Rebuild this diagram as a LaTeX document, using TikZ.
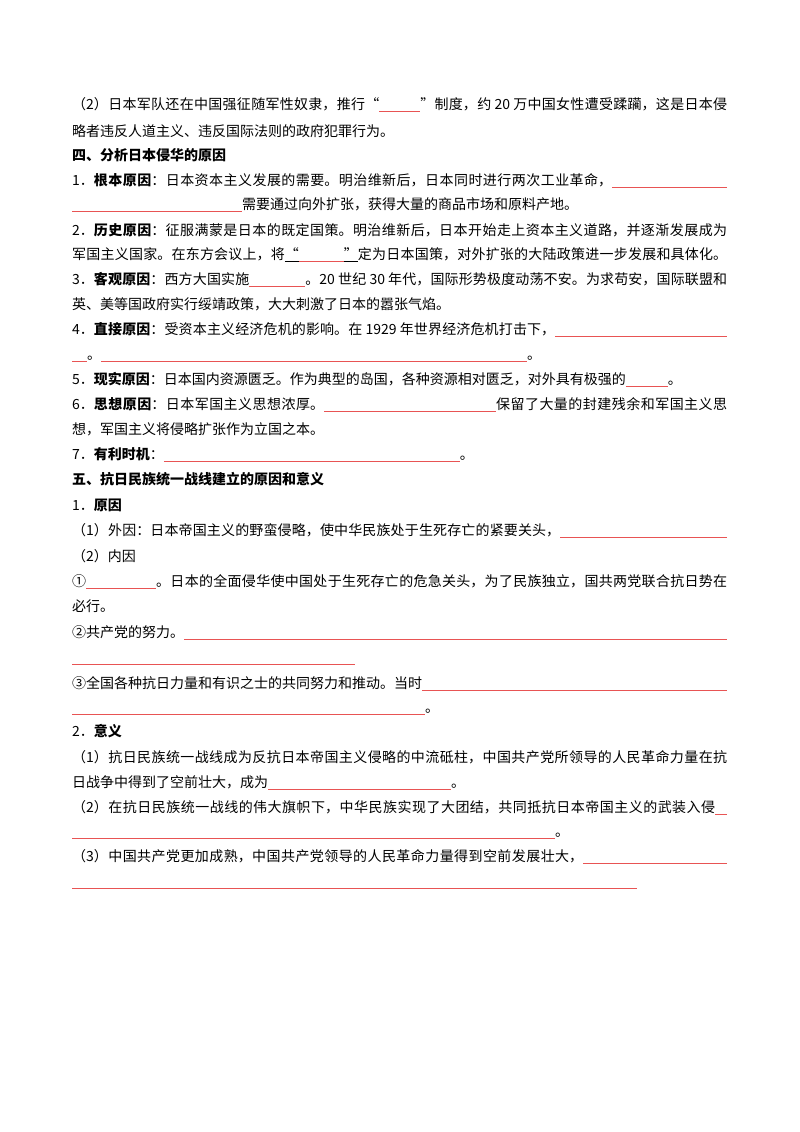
\documentclass[tikz,border=0pt]{standalone}
\usepackage{fontspec}
\setmainfont{Noto Sans CJK SC}
\XeTeXlinebreaklocale "zh"
\XeTeXlinebreakskip=0pt plus 4pt
\tolerance=10000
\setlength\parindent{0pt}
\definecolor{ulred}{RGB}{232,84,84}
\newcommand\blk[1]{{\color{ulred}\rule[-3pt]{#1pt}{0.9pt}}}
\newcommand\blkfill{{\color{ulred}\leaders\hrule height -2.1pt depth 3pt\hfill}}
\newcommand\kul[1]{\sbox0{#1}\rlap{\rule[-3pt]{\wd0}{0.9pt}}\usebox0}
\newcommand\jl[1]{\parbox[b]{655pt}{\noindent\parfillskip=0pt\relax #1}}
\tikzset{
  txt/.style={anchor=base west, inner sep=0pt, font=\fontsize{14}{18}\selectfont}
}
\begin{document}
\begin{tikzpicture}[x=1pt,y=-1pt]
\useasboundingbox[fill=white] (0,0) rectangle (800,1132);
\node[txt] (l1) at (72,109) {\jl{（2）日本军队还在中国强征随军性奴隶，推行“\blk{41}”制度，约 20 万中国女性遭受蹂躏，这是日本侵}};
\node[txt] (l2) at (72,136) {略者违反人道主义、违反国际法则的政府犯罪行为。};
\node[txt] (l3) at (72,160) {\bfseries 四、分析日本侵华的原因};
\node[txt] (l4) at (72,185) {\jl{1．\textbf{根本原因}：日本资本主义发展的需要。明治维新后，日本同时进行两次工业革命，\blk{115}}};
\node[txt] (l5) at (72,209) {\blk{170}需要通过向外扩张，获得大量的商品市场和原料产地。};
\node[txt] (l6) at (72,235) {\jl{2．\textbf{历史原因}：征服满蒙是日本的既定国策。明治维新后，日本开始走上资本主义道路，并逐渐发展成为}};
\node[txt] (l7) at (72,259) {\jl{军国主义国家。在东方会议上，将\kul{“}\blk{45}\kul{”}定为日本国策，对外扩张的大陆政策进一步发展和具体化。}};
\node[txt] (l8) at (72,284) {\jl{3．\textbf{客观原因}：西方大国实施\blk{56}。20 世纪 30 年代，国际形势极度动荡不安。为求苟安，国际联盟和}};
\node[txt] (l9) at (72,309) {英、美等国政府实行绥靖政策，大大刺激了日本的嚣张气焰。};
\node[txt] (l10) at (72,334) {\jl{4．\textbf{直接原因}：受资本主义经济危机的影响。在 1929 年世界经济危机打击下，\blk{172}}};
\node[txt] (l11) at (72,359) {\blk{15}。\blk{426}。};
\node[txt] (l12) at (72,384) {5．\textbf{现实原因}：日本国内资源匮乏。作为典型的岛国，各种资源相对匮乏，对外具有极强的\blk{42}。};
\node[txt] (l13) at (72,409) {\jl{6．\textbf{思想原因}：日本军国主义思想浓厚。\blk{172}保留了大量的封建残余和军国主义思}};
\node[txt] (l14) at (72,434) {想，军国主义将侵略扩张作为立国之本。};
\node[txt] (l15) at (72,459) {7．\textbf{有利时机}：\blk{296}。};
\node[txt] (l16) at (72,484) {\bfseries 五、抗日民族统一战线建立的原因和意义};
\node[txt] (l17) at (72,510) {1．\textbf{原因}};
\node[txt] (l18) at (72,535) {\jl{（1）外因：日本帝国主义的野蛮侵略，使中华民族处于生死存亡的紧要关头，\blk{167}}};
\node[txt] (l19) at (72,561) {（2）内因};
\node[txt] (l20) at (72,586) {\jl{①\blk{70}。日本的全面侵华使中国处于生死存亡的危急关头，为了民族独立，国共两党联合抗日势在}};
\node[txt] (l21) at (72,611) {必行。};
\node[txt] (l22) at (72,637) {\jl{②共产党的努力。\blkfill}};
\node[txt] (l23) at (72,662) {\blk{283}};
\node[txt] (l24) at (72,688) {\jl{③全国各种抗日力量和有识之士的共同努力和推动。当时\blkfill}};
\node[txt] (l25) at (72,712) {\blk{353}。};
\node[txt] (l26) at (72,736) {2．\textbf{意义}};
\node[txt] (l27) at (72,762) {\jl{（1）抗日民族统一战线成为反抗日本帝国主义侵略的中流砥柱，中国共产党所领导的人民革命力量在抗}};
\node[txt] (l28) at (72,787) {日战争中得到了空前壮大，成为\blk{183}。};
\node[txt] (l29) at (72,812) {\jl{（2）在抗日民族统一战线的伟大旗帜下，中华民族实现了大团结，共同抵抗日本帝国主义的武装入侵\blk{12}}};
\node[txt] (l30) at (72,836) {\blk{483}。};
\node[txt] (l31) at (72,861) {\jl{（3）中国共产党更加成熟，中国共产党领导的人民革命力量得到空前发展壮大，\blk{144}}};
\node[txt] (l32) at (72,886) {\blk{565}};
\end{tikzpicture}
\end{document}
